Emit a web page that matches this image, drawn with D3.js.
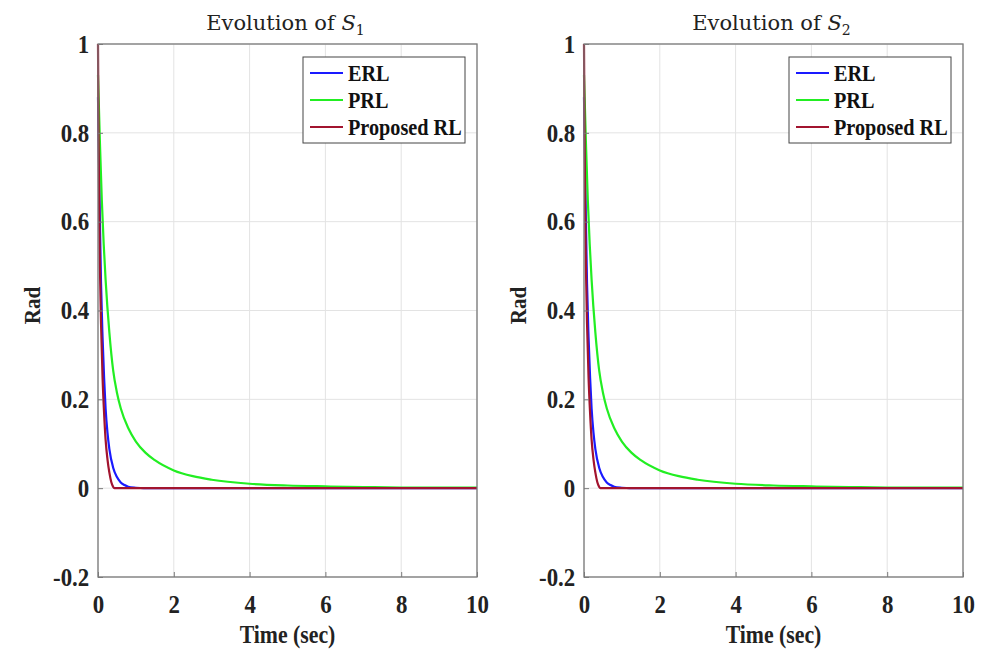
<!DOCTYPE html>
<html><head><meta charset="utf-8">
<script src="https://cdn.jsdelivr.net/npm/d3@7"></script>
<style>body{margin:0;background:#fff}svg{display:block}</style>
</head><body>
<svg id="c" width="987" height="653"></svg>
<script>
const xTicks = [0, 2, 4, 6, 8, 10];
const yTicks = [-0.2, 0, 0.2, 0.4, 0.6, 0.8, 1];
const yTickLabels = ["-0.2", "0", "0.2", "0.4", "0.6", "0.8", "1"];
const seriesNames = ["ERL", "PRL", "Proposed RL"];
const seriesColors = ["#1a1aff", "#22ee22", "#a2142f"];
const titles = ["S", "S"];
const subs = ["1", "2"];

const erlT = [0, 0.02, 0.05, 0.08, 0.12, 0.16, 0.2, 0.25, 0.3, 0.4, 0.5, 0.6, 0.7, 0.8, 1.0, 1.2, 10];
const erlV = [0.88, 0.78, 0.6, 0.46, 0.34, 0.25, 0.18, 0.125, 0.088, 0.046, 0.025, 0.013, 0.007, 0.003, 0.001, 0, 0];
const prlT = [0, 0.05, 0.1, 0.15, 0.2, 0.3, 0.4, 0.5, 0.6, 0.8, 1.0, 1.25, 1.5, 2, 2.5, 3, 4, 5, 6, 7, 8, 10];
const prlV = [0.93, 0.78, 0.65, 0.55, 0.47, 0.35, 0.265, 0.215, 0.18, 0.135, 0.105, 0.08, 0.063, 0.04, 0.027, 0.019, 0.01, 0.006, 0.004, 0.0025, 0.0015, 0.001];
const prpT = [0, 0.01, 0.03, 0.05, 0.08, 0.12, 0.16, 0.2, 0.25, 0.3, 0.35, 0.4, 0.43, 10];
const prpV = [1.0, 0.85, 0.64, 0.5, 0.37, 0.25, 0.17, 0.11, 0.065, 0.035, 0.014, 0.003, 0, 0];

const FONT = "Liberation Serif, Times New Roman, serif";
const svg = d3.select("#c");
const panels = [{x0: 98, x1: 477}, {x0: 584, x1: 963}];
const yTop = 44, yBot = 577;

panels.forEach((p, pi) => {
  const x = d3.scaleLinear().domain([0, 10]).range([p.x0, p.x1]);
  const y = d3.scaleLinear().domain([-0.2, 1]).range([yBot, yTop]);
  const g = svg.append("g");
  // grid
  g.selectAll(".gx").data(xTicks).enter().append("line")
    .attr("x1", d => x(d)).attr("x2", d => x(d)).attr("y1", yTop).attr("y2", yBot)
    .attr("stroke", "#e3e3e3").attr("stroke-width", 1);
  g.selectAll(".gy").data(yTicks).enter().append("line")
    .attr("y1", d => y(d)).attr("y2", d => y(d)).attr("x1", p.x0).attr("x2", p.x1)
    .attr("stroke", "#e3e3e3").attr("stroke-width", 1);
  // lines
  const sets = [[erlT, erlV], [prlT, prlV], [prpT, prpV]];
  sets.forEach((s, i) => {
    const pts = s[0].map((t, k) => [t, s[1][k]]);
    g.append("path").datum(pts)
      .attr("d", d3.line().x(d => x(d[0])).y(d => y(d[1])).curve(d3.curveMonotoneX))
      .attr("fill", "none").attr("stroke", seriesColors[i]).attr("stroke-width", 2.2);
  });
  // frame
  g.append("rect").attr("x", p.x0).attr("y", yTop).attr("width", p.x1 - p.x0).attr("height", yBot - yTop)
    .attr("fill", "none").attr("stroke", "#7a7a7a").attr("stroke-width", 1.3);
  // axes
  const ax = g.append("g").attr("transform", `translate(0,${yBot})`)
    .call(d3.axisBottom(x).tickValues(xTicks).tickSizeInner(-5).tickSizeOuter(0).tickPadding(14).tickFormat(d3.format("d")));
  const ay = g.append("g").attr("transform", `translate(${p.x0},0)`)
    .call(d3.axisLeft(y).tickValues(yTicks).tickSizeInner(-5).tickSizeOuter(0).tickPadding(10).tickFormat((d, i) => yTickLabels[i]));
  [ax, ay].forEach(a => {
    a.select(".domain").remove();
    a.selectAll(".tick line").attr("stroke", "#7a7a7a");
    a.selectAll("text").attr("font-family", FONT)
      .attr("font-weight", "bold").attr("font-size", 26).attr("fill", "#222")
      .attr("transform", "scale(0.88,1)");
  });
  ax.selectAll("text").attr("dy", "0.85em");
  // titles
  const cx = (p.x0 + p.x1) / 2;
  const tt = g.append("text").attr("x", cx - 2).attr("y", 30).attr("text-anchor", "middle")
    .attr("font-family", "DejaVu Serif, Liberation Serif, serif").attr("font-size", 21).attr("fill", "#222");
  tt.append("tspan").text("Evolution of ");
  tt.append("tspan").attr("font-style", "italic").text(titles[pi]);
  tt.append("tspan").attr("font-size", 14).attr("dy", 5).text(subs[pi]);
  g.append("text").attr("transform", `translate(${cx},643) scale(0.87,1)`).attr("text-anchor", "middle")
    .attr("font-family", FONT).attr("font-weight", "bold").attr("font-size", 25).attr("fill", "#222")
    .text("Time (sec)");
  g.append("text").attr("transform", `translate(${p.x0 - 58},${(yTop + yBot) / 2 - 5}) rotate(-90) scale(0.88,1)`).attr("text-anchor", "middle")
    .attr("font-family", FONT).attr("font-weight", "bold").attr("font-size", 24).attr("fill", "#222")
    .text("Rad");
  // legend
  const lx = p.x1 - 174, ly = 57;
  const lg = g.append("g").attr("transform", `translate(${lx},${ly})`);
  lg.append("rect").attr("width", 162).attr("height", 86).attr("fill", "#fff").attr("stroke", "#444").attr("stroke-width", 1);
  seriesNames.forEach((n, i) => {
    const yy = 16 + i * 27;
    lg.append("line").attr("x1", 7).attr("x2", 40).attr("y1", yy).attr("y2", yy)
      .attr("stroke", seriesColors[i]).attr("stroke-width", 2.2);
    lg.append("text").attr("transform", `translate(45,${yy + 8}) scale(0.88,1)`).attr("font-family", FONT)
      .attr("font-weight", "bold").attr("font-size", 23).attr("fill", "#111").text(n);
  });
});
</script>
</body></html>
